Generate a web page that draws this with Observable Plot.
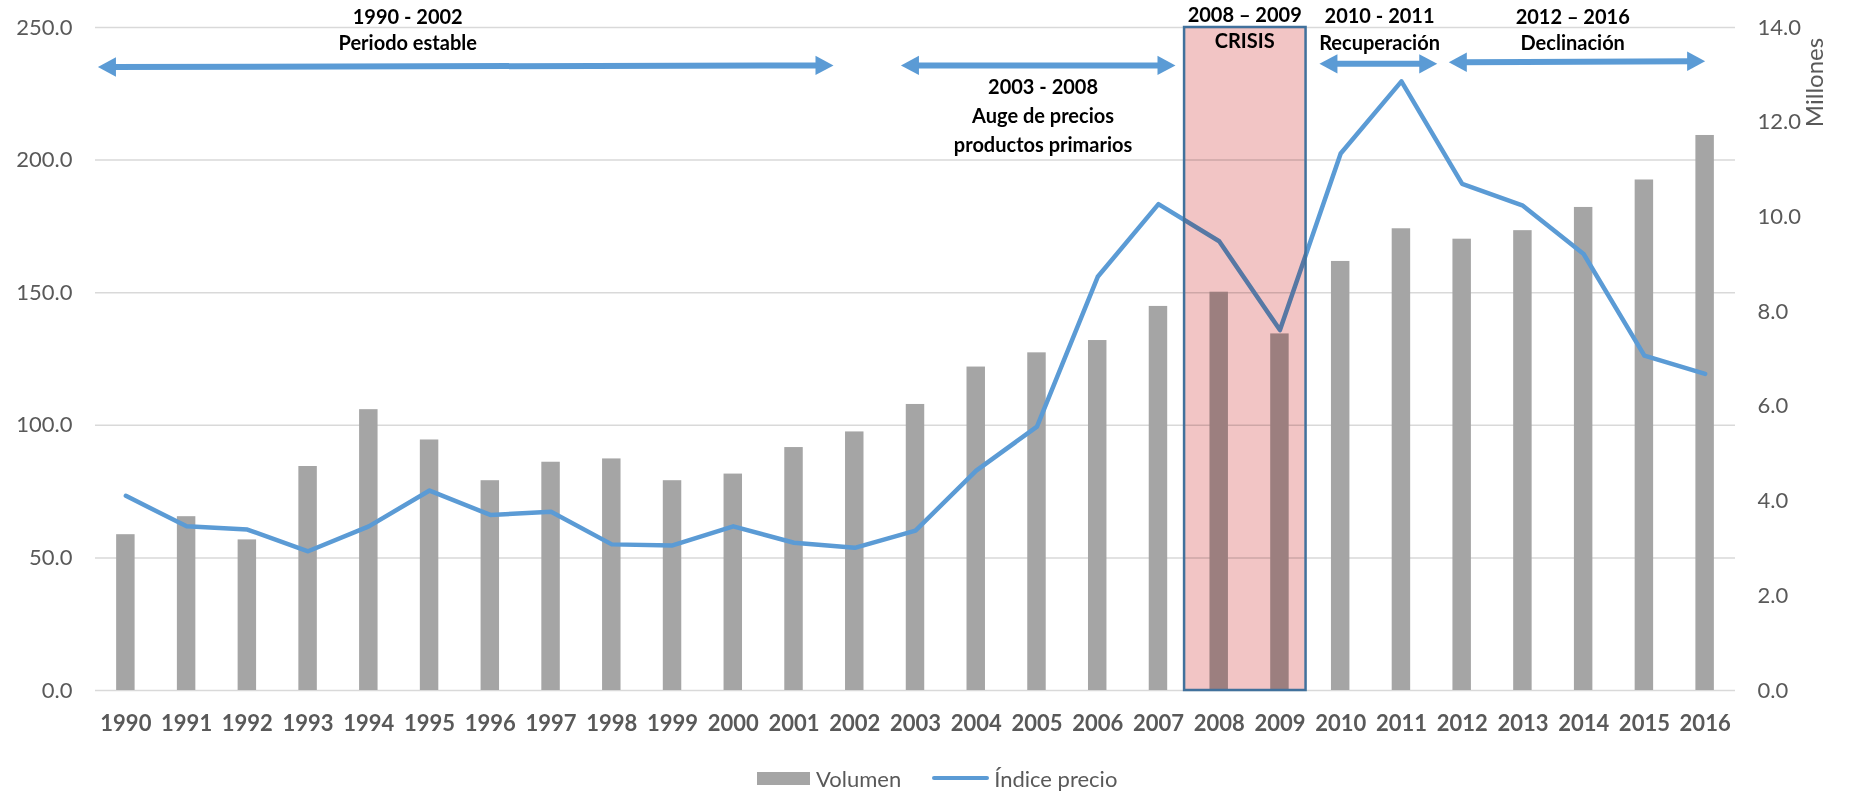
<!DOCTYPE html>
<html>
<head>
<meta charset="utf-8">
<script src="https://cdn.jsdelivr.net/npm/d3@7"></script>
<script src="https://cdn.jsdelivr.net/npm/@observablehq/plot@0.6"></script>
<style>
  html, body { margin: 0; padding: 0; background: #fff; }
  body { position: relative; width: 1849px; height: 792px; overflow: hidden; font-family: Lato, "Open Sans", sans-serif; }
  #legend { position: absolute; left: 757px; top: 765px; height: 26px; display: flex; align-items: center; font-size: 22px; color: #595959; }
  #legend .sw-bar { width: 53px; height: 13px; background: #a5a5a5; margin-right: 6px; }
  #legend .sw-line { width: 57px; height: 4px; background: #5b9bd5; margin-left: 31px; margin-right: 5px; border-radius: 2px; }
</style>
</head>
<body>
<div id="chart"></div>
<div id="legend"><span class="sw-bar"></span><span>Volumen</span><span class="sw-line"></span><span>Índice precio</span></div>
<script>
// ---- data ----
const years = [1990,1991,1992,1993,1994,1995,1996,1997,1998,1999,2000,2001,2002,2003,2004,2005,2006,2007,2008,2009,2010,2011,2012,2013,2014,2015,2016];
const volumen = [3.29,3.67,3.18,4.73,5.93,5.29,4.43,4.82,4.89,4.43,4.57,5.13,5.46,6.04,6.83,7.13,7.39,8.11,8.41,7.53,9.06,9.75,9.53,9.71,10.20,10.78,11.72]; // millones (eje derecho)
const indicePrecio = [73.4,61.9,60.7,52.5,61.9,75.4,66.2,67.4,55.1,54.7,61.9,55.7,53.8,60.3,82.9,99.5,156.0,183.4,169.4,135.9,202.5,229.7,191.0,182.8,164.6,126.3,119.4]; // eje izquierdo
const leftTicks = [0,50,100,150,200,250];
const rightTicks = [0,2,4,6,8,10,12,14];
const leftMax = 250, rightMax = 14;

// annotation arrows (x in years, y in left-axis units)
const periodArrows = [
  {x1: 1989.54, x2: 2001.65, y1: 235.1, y2: 235.7},
  {x1: 2002.76, x2: 2007.28, y1: 235.7, y2: 235.7},
  {x1: 2009.65, x2: 2011.59, y1: 236.3, y2: 236.3},
  {x1: 2011.78, x2: 2016.00, y1: 236.9, y2: 237.3}
];
const periodLabels = [
  {x: 1994.64, y: 253.8, text: "1990 - 2002"},
  {x: 1994.64, y: 244.0, text: "Periodo estable"},
  {x: 2005.10, y: 227.5, text: "2003 - 2008"},
  {x: 2005.10, y: 216.5, text: "Auge de precios"},
  {x: 2005.10, y: 205.6, text: "productos primarios"},
  {x: 2008.42, y: 254.5, text: "2008 – 2009"},
  {x: 2008.42, y: 244.5, text: "CRISIS"},
  {x: 2010.64, y: 254.3, text: "2010 - 2011"},
  {x: 2010.64, y: 244.1, text: "Recuperación"},
  {x: 2013.82, y: 253.9, text: "2012 – 2016"},
  {x: 2013.82, y: 243.9, text: "Declinación"}
];
const crisis = [{x1: 2007.43, x2: 2009.43, y1: 0, y2: 250}];

// ---- build ----
const data = years.map((year, i) => ({year, vol: volumen[i], idx: indicePrecio[i]}));
const toLeft = v => v * leftMax / rightMax;

const headRight = {draw(ctx) { ctx.moveTo(0, 0); ctx.lineTo(-18, -9.7); ctx.lineTo(-18, 9.7); ctx.closePath(); }};
const headLeft  = {draw(ctx) { ctx.moveTo(0, 0); ctx.lineTo(18, -9.7); ctx.lineTo(18, 9.7); ctx.closePath(); }};
const blue = "#5b9bd5";

const chart = Plot.plot({
  width: 1849,
  height: 752,
  marginTop: 27,
  marginBottom: 62,
  marginLeft: 95,
  marginRight: 114,
  style: {fontFamily: "Lato, 'Open Sans', sans-serif", fontSize: "22px", color: "#595959", background: "#fff"},
  x: {type: "linear", domain: [1989.5, 2016.5]},
  y: {domain: [0, leftMax]},
  marks: [
    Plot.ruleY(leftTicks, {stroke: "#d9d9d9", strokeWidth: 1.5}),
    Plot.rectY(data, {x1: d => d.year - 0.152, x2: d => d.year + 0.152, y: d => toLeft(d.vol), fill: "#a5a5a5"}),
    Plot.line(data, {x: "year", y: "idx", stroke: blue, strokeWidth: 4.5, strokeLinejoin: "round", strokeLinecap: "round"}),
    Plot.rect(crisis, {x1: "x1", x2: "x2", y1: "y1", y2: "y2", fill: "#f2c5c5", mixBlendMode: "multiply"}),
    Plot.rect(crisis, {x1: "x1", x2: "x2", y1: "y1", y2: "y2", fill: "none", stroke: "#41719c", strokeWidth: 2.5}),
    Plot.arrow(periodArrows, {x1: "x1", x2: "x2", y1: "y1", y2: "y2", stroke: blue, strokeWidth: 6, headLength: 0, insetStart: 12, insetEnd: 12, strokeLinecap: "butt"}),
    Plot.dot(periodArrows, {x: "x1", y: "y1", symbol: headLeft, fill: blue, stroke: "none"}),
    Plot.dot(periodArrows, {x: "x2", y: "y2", symbol: headRight, fill: blue, stroke: "none"}),
    Plot.text(periodLabels, {x: "x", y: "y", text: "text", fill: "#000", fontWeight: "bold", fontSize: 20, textAnchor: "middle"}),
    Plot.axisY(leftTicks, {anchor: "left", tickSize: 0, tickPadding: 23, tickFormat: d => d.toFixed(1), fontSize: 22}),
    Plot.axisY(rightTicks.map(toLeft), {anchor: "right", tickSize: 0, tickPadding: 22, tickFormat: d => (d * rightMax / leftMax).toFixed(1), fontSize: 22}),
    Plot.text(["Millones"], {frameAnchor: "top-right", textAnchor: "middle", lineAnchor: "middle", dx: 80, dy: 55, rotate: -90, fontSize: 24, fill: "#595959"}),
    Plot.axisX(years, {anchor: "bottom", tickSize: 0, tickPadding: 25, tickFormat: d => String(d), fontWeight: "bold", fontSize: 22, label: null})
  ]
});
document.getElementById("chart").appendChild(chart);
</script>
</body>
</html>
